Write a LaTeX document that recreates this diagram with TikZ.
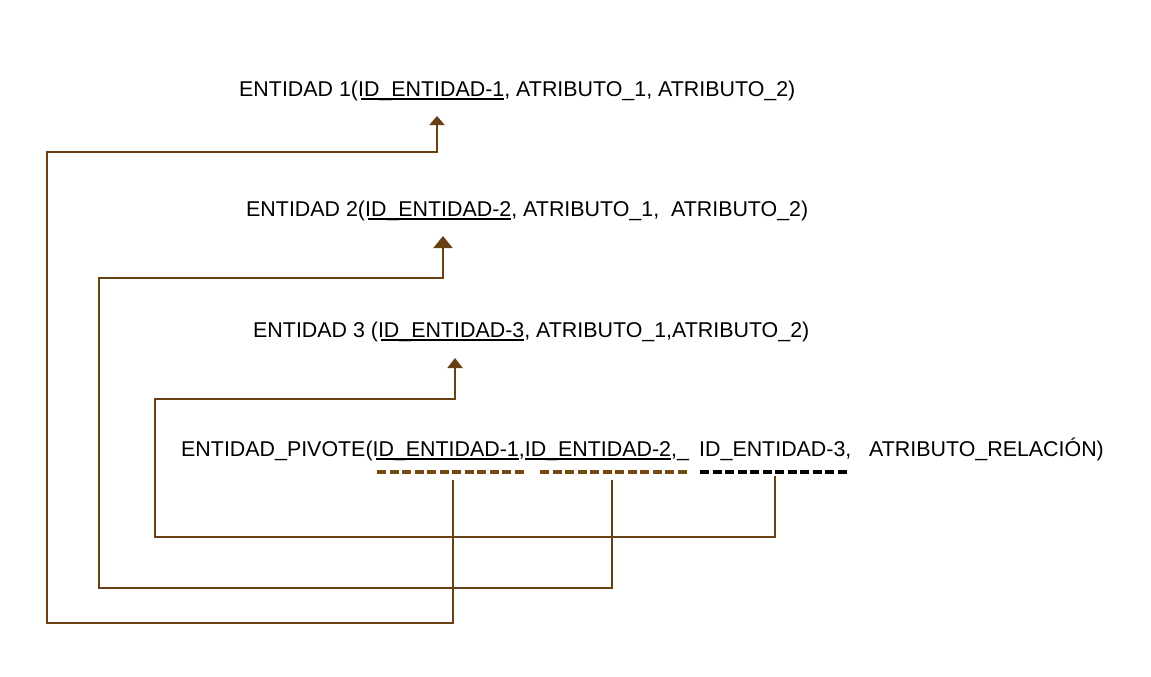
\documentclass[tikz,border=0pt]{standalone}
\usepackage{fontspec}
\setmainfont{Liberation Sans}
\usetikzlibrary{arrows.meta}
\definecolor{connbrown}{RGB}{104,64,20}
\definecolor{dashbrown}{RGB}{120,72,18}
\newcommand\myul[2][0pt]{\setbox0\hbox{#2}\kern-#1\rlap{\rule[-3.6pt]{\dimexpr\wd0+#1\relax}{1.8pt}}\kern#1\box0}
\begin{document}
\begin{tikzpicture}[x=1pt,y=-1pt,
  lbl/.style={anchor=base west, inner sep=0pt, font=\fontsize{21.4}{25}\selectfont, text=black},
  link/.style={draw=connbrown, line width=2pt},
  keydash/.style={line width=3.6pt, dash pattern=on 9pt off 3.5pt}]
\useasboundingbox (0,0) rectangle (1151,677);
\fill[white] (0,0) rectangle (1151,677);

% texts
\node[lbl] (e1) at (239,96) {ENTIDAD 1(I\myul[3pt]{D\_ENTIDAD-1}, ATRIBUTO\_1, ATRIBUTO\_2)};
\node[lbl] (e2) at (246,216.5) {ENTIDAD 2(I\myul[3pt]{D\_ENTIDAD-2}, ATRIBUTO\_1,~ ATRIBUTO\_2)};
\node[lbl] (e3) at (253,337) {ENTIDAD 3 (I\myul[3pt]{D\_ENTIDAD-3}, ATRIBUTO\_1,ATRIBUTO\_2)};
\node[lbl] (piv) at (181,456) {ENTIDAD\_PIVOTE(I\myul[3pt]{D\_ENTIDAD-1},\myul{ID\_ENTIDAD-2},\_};
\node[lbl] (piv3) at (699,456) {ID\_ENTIDAD-3,};
\node[lbl] (piv4) at (869,456) {ATRIBUTO\_RELACIÓN)};

% key dashes
\coordinate (k1s) at (377,472); \coordinate (k1e) at (525,472);
\coordinate (k2s) at (540,472); \coordinate (k2e) at (688,472);
\coordinate (k3s) at (700,472); \coordinate (k3e) at (848,472);
\draw[keydash, dashbrown] (k1s) -- (k1e);
\draw[keydash, dashbrown] (k2s) -- (k2e);
\draw[keydash, black] (k3s) -- (k3e);

% connector coordinates
\coordinate (d1) at (453,480); \coordinate (c1) at (47,623);
\coordinate (b1) at (437,152); \coordinate (a1) at (437,116);
\coordinate (d2) at (612,480); \coordinate (c2) at (99,588);
\coordinate (b2) at (443,278); \coordinate (a2) at (443,236);
\coordinate (d3) at (775,476); \coordinate (c3) at (155,537);
\coordinate (b3) at (455,399); \coordinate (a3) at (455,358);

\draw[link, -{Triangle[width=15pt,length=9pt]}] (d1) |- (c1) |- (b1) -- (a1);
\draw[link, -{Triangle[width=19pt,length=12pt]}] (d2) |- (c2) |- (b2) -- (a2);
\draw[link, -{Triangle[width=15pt,length=10pt]}] (d3) |- (c3) |- (b3) -- (a3);
\end{tikzpicture}
\end{document}
